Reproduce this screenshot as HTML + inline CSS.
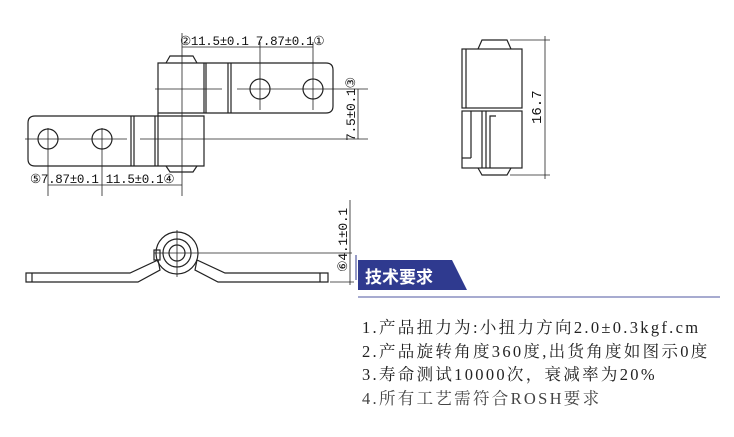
<!DOCTYPE html>
<html><head><meta charset="utf-8"><style>
body{margin:0;background:#fff;width:734px;height:437px;overflow:hidden;position:relative}
.t{position:absolute;left:362px;font-family:"Liberation Serif","Noto Serif CJK SC",serif;font-size:16.5px;letter-spacing:2.3px;color:#222;white-space:nowrap}
</style></head><body>
<svg width="734" height="437" style="position:absolute;left:0;top:0" font-family="Liberation Sans, sans-serif">
<g fill="none" stroke="#222" stroke-width="1.2">
<path d="M166,63 L170,56 L193,56 L197,63"/>
<path d="M158,63 H326 Q333,63 333,70 V106 Q333,113 326,113 H158 Z"/>
<line x1="204" y1="63" x2="204" y2="113"/><line x1="206" y1="63" x2="206" y2="113"/>
<line x1="228" y1="63" x2="228" y2="113"/><line x1="231" y1="63" x2="231" y2="113"/>
<circle cx="260" cy="89" r="10"/><circle cx="313" cy="89" r="10"/>
<path d="M204,116 H35 Q28,116 28,123 V159 Q28,166 35,166 H204 Z"/>
<line x1="158" y1="113" x2="158" y2="166"/>
<line x1="131" y1="116" x2="131" y2="166"/><line x1="134" y1="116" x2="134" y2="166"/>
<line x1="155" y1="116" x2="155" y2="166"/>
<path d="M166,166 L170,172 L193,172 L197,166"/>
<circle cx="48" cy="139" r="10"/><circle cx="102" cy="139" r="10"/>
</g>
<g stroke="#222" stroke-width="0.8" fill="none">
<line x1="182" y1="33" x2="182" y2="196"/>
<line x1="155" y1="89" x2="222" y2="89"/><line x1="237" y1="89" x2="368" y2="89"/>
<line x1="25" y1="139" x2="127" y2="139"/><line x1="140" y1="139" x2="368" y2="139"/>
<line x1="260" y1="42" x2="260" y2="110"/><line x1="313" y1="42" x2="313" y2="110"/>
<line x1="48" y1="128" x2="48" y2="196"/><line x1="102" y1="128" x2="102" y2="196"/>
<line x1="182" y1="47" x2="313" y2="47"/>
<line x1="48" y1="185" x2="182" y2="185"/>
<line x1="358" y1="89" x2="358" y2="139"/>
</g>
<g font-size="12.5" fill="#111" font-family="Liberation Mono, monospace" letter-spacing="-0.3">
<text x="180" y="45">②11.5±0.1 7.87±0.1①</text>
<text x="30" y="183">⑤7.87±0.1 11.5±0.1④</text>
<text transform="translate(355,141) rotate(-90)" font-size="13">7.5±0.1③</text>
</g>
<g fill="none" stroke="#222" stroke-width="1.2">
<path d="M478,49 L482,40 L507,40 L511,49"/>
<rect x="462" y="49" width="60" height="59"/>
<line x1="466" y1="49" x2="466" y2="108"/>
<rect x="462" y="111" width="60" height="57"/>
<line x1="471" y1="111" x2="471" y2="158"/><line x1="462" y1="158" x2="471" y2="158"/>
<line x1="482" y1="111" x2="482" y2="168"/><line x1="486" y1="111" x2="486" y2="168"/>
<path d="M490,168 V116 H496"/>
<path d="M478,168 L482,175 L507,175 L511,168"/>
</g>
<g stroke="#222" stroke-width="0.8">
<line x1="510" y1="40" x2="550" y2="40"/><line x1="510" y1="175" x2="550" y2="175"/>
<line x1="545" y1="36" x2="545" y2="179"/>
</g>
<text transform="translate(541,124) rotate(-90)" font-size="14" fill="#111" font-family="Liberation Mono, monospace">16.7</text>
<g fill="none" stroke="#222" stroke-width="1.2">
<circle cx="177" cy="253" r="21"/><circle cx="177" cy="253" r="14"/><circle cx="177" cy="253" r="8"/>
<path d="M26,273 H130 L158,260 L160,270 L138,282 H26 Z"/>
<line x1="32" y1="273" x2="32" y2="282"/>
<path d="M328,273 H225 L197,260 L195,270 L218,282 H328 Z"/>
<line x1="320" y1="273" x2="320" y2="282"/>
<rect x="154" y="250" width="6" height="10"/>
</g>
<g stroke="#222" stroke-width="0.8">
<line x1="177" y1="230" x2="177" y2="277"/><line x1="154" y1="253" x2="352" y2="253"/>
<line x1="350" y1="200" x2="350" y2="285"/><line x1="330" y1="282" x2="354" y2="282"/>
</g>
<text transform="translate(347,272) rotate(-90)" font-size="13" fill="#111" font-family="Liberation Mono, monospace" letter-spacing="-0.3">⑥4.1±0.1</text>
<polygon points="358,260 452,260 467,290 358,290" fill="#2f3a8f"/>
<text x="365" y="283" font-size="17" font-weight="bold" fill="#fff" font-family="Liberation Sans, Noto Sans CJK SC, sans-serif">技术要求</text>
<line x1="358" y1="297" x2="720" y2="297" stroke="#8a8fc0" stroke-width="1.5"/>
<line x1="356" y1="255" x2="356" y2="280" stroke="#2f3a8f" stroke-width="1"/>
</svg>
<div class="t" style="top:314px">1.产品扭力为:小扭力方向2.0±0.3kgf.cm</div>
<div class="t" style="top:338px">2.产品旋转角度360度,出货角度如图示0度</div>
<div class="t" style="top:361px">3.寿命测试10000次，衰减率为20%</div>
<div class="t" style="top:385px;color:#444">4.所有工艺需符合ROSH要求</div>
</body></html>
